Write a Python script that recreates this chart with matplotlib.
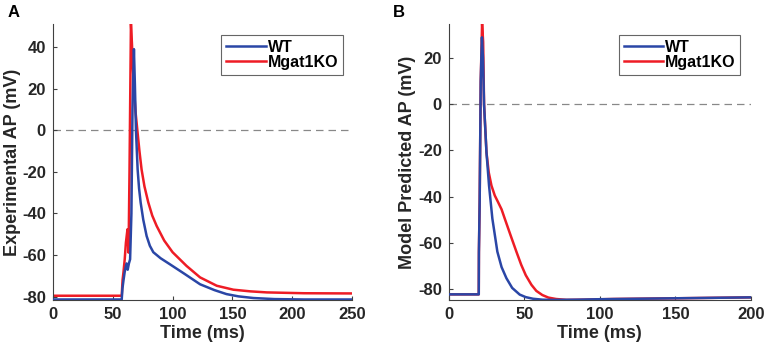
import matplotlib.pyplot as plt
import numpy as np

plt.rcParams['font.family'] = ['Liberation Sans', 'DejaVu Sans']
plt.rcParams['font.weight'] = 'bold'
plt.rcParams['axes.unicode_minus'] = False

# panel A - experimental AP (time ms, voltage mV)
a_wt_t = [0, 57.5, 58.1, 59, 60, 61.5, 62.5, 63.5, 64.5, 65.6, 66.5, 67.7, 68.5, 69.4, 70.8, 72, 73.3, 75.5,
          78.3, 81, 83.9, 90, 97.8, 110, 123, 135, 145, 155, 167.6, 185, 210, 250]
a_wt_v = [-81.3, -81.3, -76, -72, -68, -64, -67, -64, -62, -40, 10, 38.9, 22, 0, -18.9, -28, -34.7, -43,
          -50.8, -55.5, -58.6, -61.5, -64.4, -69, -74, -76.8, -78.7, -79.8, -80.6, -81.1, -81.3, -81.3]
a_ko_t = [0, 57.5, 58.2, 59, 60, 61, 62.3, 63.2, 64, 65.2, 66, 67.5, 69, 70.5, 72.3, 74.1, 76.5, 79.7, 83,
          86.7, 93, 100, 111.7, 123, 136.9, 150.8, 165, 178.8, 210, 250]
a_ko_v = [-79.5, -79.5, -72, -68, -62, -54, -47.6, -58.8, -20, 51.3, 42, 22, 9, 0.3, -10, -18.9, -27, -34.7, -41,
          -46, -53, -58.6, -65.2, -70.7, -74.7, -76.6, -77.4, -77.9, -78.3, -78.4]

# panel B - model predicted AP
b_wt_t = [0, 19.9, 20.0, 20.5, 21.2, 22.0, 22.7, 23.4, 25, 26.7, 28.9, 32.2, 35, 38.2, 42, 47, 51, 55.8,
          62, 69, 85, 100, 150, 200]
b_wt_v = [-82.3, -82.3, -64, -42, 10, 29, 20, 0, -20.8, -35.2, -49.5, -63.8, -70.5, -75.3, -79.5, -82.4, -83.5, -84.2,
          -84.6, -84.7, -84.6, -84.4, -84.0, -83.6]
b_ko_t = [0, 19.9, 20.0, 20.5, 21.2, 22.1, 22.8, 23.4, 25, 26.5, 28.3, 30.5, 32.7, 35, 37.1, 41, 44.8, 48,
          51, 54.8, 58, 62, 66, 71, 78, 90, 109, 150, 200]
b_ko_v = [-82.3, -82.3, -64, -42, 10, 34.9, 27, 0, -20.8, -29.5, -35.2, -39.5, -42.4, -45.5, -49.5, -56.8, -63.8,
          -69.5, -74, -78.2, -80.8, -82.6, -83.7, -84.3, -84.7, -84.6, -84.3, -84.0, -83.6]

blue = '#2a46a6'
red = '#ee1c25'
axcol = '#404040'

fig = plt.figure(figsize=(7.67, 3.52), dpi=100)
axA = fig.add_axes([0.069, 0.148, 0.390, 0.784])
axB = fig.add_axes([0.585, 0.148, 0.394, 0.784])


def style(ax, xlim, ylim, xticks, yticks, ylabel, legx):
    ax.set_xlim(*xlim)
    ax.set_ylim(*ylim)
    ax.set_xticks(xticks)
    ax.set_yticks(yticks)
    for s in ['top', 'right']:
        ax.spines[s].set_visible(False)
    for s in ['left', 'bottom']:
        ax.spines[s].set_color(axcol)
        ax.spines[s].set_linewidth(0.8)
    ax.tick_params(direction='in', length=3, color=axcol, labelcolor='#262626', labelsize=12, pad=5)
    for lab in ax.get_xticklabels() + ax.get_yticklabels():
        lab.set_fontweight('bold')
    ax.set_xlabel('Time (ms)', fontsize=13, fontweight='bold', color='#262626', labelpad=2)
    ax.set_ylabel(ylabel, fontsize=13, fontweight='bold', color='#262626', labelpad=1)
    ax.axhline(0, color='#888888', lw=0.9, dashes=(6, 4), zorder=1)
    leg = ax.legend(loc='upper right', bbox_to_anchor=(legx, 0.959), fontsize=11.5, frameon=True, fancybox=False,
                    handlelength=2.5, handletextpad=0.08, borderpad=0.3, labelspacing=0.0, borderaxespad=0)
    leg.get_frame().set_edgecolor(axcol)
    leg.get_frame().set_linewidth(0.8)
    for t in leg.get_texts():
        t.set_fontweight('bold')


axA.plot(a_wt_t, a_wt_v, color=blue, lw=1.8, label='WT', zorder=3)
axA.plot(a_ko_t, a_ko_v, color=red, lw=1.8, label='Mgat1KO', zorder=2)
style(axA, (0, 250), (-81.5, 51), [0, 50, 100, 150, 200, 250], [-80, -60, -40, -20, 0, 20, 40],
      'Experimental AP (mV)', 0.969)

axB.plot(b_wt_t, b_wt_v, color=blue, lw=1.8, label='WT', zorder=3)
axB.plot(b_ko_t, b_ko_v, color=red, lw=1.8, label='Mgat1KO', zorder=2)
style(axB, (0, 200), (-84.7, 34.8), [0, 50, 100, 150, 200], [-80, -60, -40, -20, 0, 20],
      'Model Predicted AP (mV)', 0.964)

fig.text(0.010, 0.965, 'A', fontsize=12, fontweight='bold', va='center')
fig.text(0.512, 0.965, 'B', fontsize=12, fontweight='bold', va='center')

fig.savefig('out.png', dpi=100)
